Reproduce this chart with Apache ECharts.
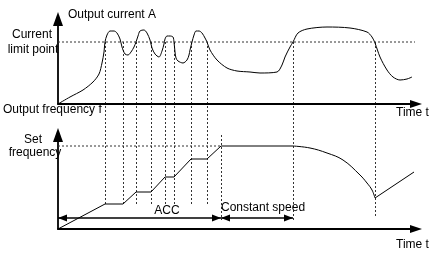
<!DOCTYPE html>
<html><head><meta charset="utf-8">
<script src="https://cdn.jsdelivr.net/npm/echarts@6/dist/echarts.min.js"></script>
<style>html,body{margin:0;padding:0;background:#fff}#c{width:438px;height:256px}</style>
</head><body><div id="c"></div>
<script>
// ---- data (time t in arbitrary units) ----
const currentT = [0,12,25,35,41,44,46,47,49,52,56,59,62,64,67,70,73,76,78,80,82,86,89,92,94,97,101,104,106,107,109,112,115,116,117,118,120,125,129,131,132,134,136,138,141,144,147,149,152,159,169,179,192,202,219,224,227,232,235,240,249,269,292,309,314,317,322,329,335,342,349,354];
const currentA = [0,7,14,22,30,41,52,62,69,73,73,71,65,57,50,49,52,57,62,68,73,74,71,64,56,50,47,53,60,65,68,68,67,62,52,46,43,41,44,49,54,62,69,73,73,71,66,62,54,44,36,33,32,31,32,39,47,57,62,71,75,77,76,72,67,61,47,34,27,24,25,27];
const currentLimit = 62;

const freqStepT = [0,47,65,78,93,107,116,133,149,163,235];
const freqStepV = [0,25,25,37,37,52,52,70,70,83,83];
const freqDecelT = [235,252,269,285,302,309,314,317];
const freqDecelV = [83,81,76,69,54,46,39,31];
const freqReaccT = [317,356];
const freqReaccV = [31,57];
const setFrequency = 83;
const setFreqEndT = 163;

// instants marked by dotted verticals
const markT      = [47,65,78,93,107,116,133,149,235,317];
const markBottom = [25,25,25,25,25,25,25,25,9,12];
const accelEndT = 163;
const constEndT = 235;
const spanLevel = 11;

const labels = {
  yTop: 'Output current A', limit1: 'Current', limit2: 'limit point',
  xTop: 'Output frequency f', time: 'Time t', set1: 'Set', set2: 'frequency',
  acc: 'ACC', constant: 'Constant speed'
};

// ---- chart ----
const zip = (a, b) => a.map((v, i) => [v, b[i]]);
const chart = echarts.init(document.getElementById('c'), null, {renderer: 'canvas'});
const FONT = '12px "Liberation Sans", Arial, Helvetica, sans-serif';
const yMax = [85, 94];
function axLine(size) {
  return {show: true, onZero: false, symbol: ['none', 'triangle'], symbolSize: size,
    lineStyle: {color: '#000', width: 1.8}};
}
function xAx(g) {
  return {type: 'value', gridIndex: g, min: 0, max: 358, axisLine: axLine([8, 12]),
    axisTick: {show: false}, axisLabel: {show: false}, splitLine: {show: false}};
}
function yAx(g) {
  return {type: 'value', gridIndex: g, min: 0, max: yMax[g], axisLine: axLine([10, 14]),
    axisTick: {show: false}, axisLabel: {show: false}, splitLine: {show: false}};
}
const curve = {color: '#000', width: 1};
const dotted = {color: '#333', width: 1, type: [2, 2]};
const base = {type: 'line', symbol: 'none', silent: true};

chart.setOption({
  animation: false,
  grid: [
    {left: 58, top: 19, width: 358, height: 85},
    {left: 58, top: 135, width: 358, height: 94}
  ],
  xAxis: [xAx(0), xAx(1)],
  yAxis: [yAx(0), yAx(1)],
  series: [
    Object.assign({}, base, {xAxisIndex: 0, yAxisIndex: 0, data: zip(currentT, currentA), smooth: 0.3, lineStyle: curve}),
    Object.assign({}, base, {xAxisIndex: 0, yAxisIndex: 0, data: [[0, currentLimit], [357, currentLimit]], lineStyle: dotted}),
    Object.assign({}, base, {xAxisIndex: 1, yAxisIndex: 1, data: zip(freqStepT, freqStepV), lineStyle: curve}),
    Object.assign({}, base, {xAxisIndex: 1, yAxisIndex: 1, data: zip(freqDecelT, freqDecelV), smooth: 0.4, lineStyle: curve}),
    Object.assign({}, base, {xAxisIndex: 1, yAxisIndex: 1, data: zip(freqReaccT, freqReaccV), lineStyle: curve}),
    Object.assign({}, base, {xAxisIndex: 1, yAxisIndex: 1, data: [[0, setFrequency], [setFreqEndT, setFrequency]], lineStyle: dotted,
      markLine: {silent: true, symbol: ['triangle', 'triangle'], symbolSize: [7, 9], symbolOffset: [[0, 4.5], [0, 4.5]],
        label: {show: false}, lineStyle: {color: '#000', width: 1.5, type: 'solid'},
        data: [
          [{coord: [0, spanLevel]}, {coord: [accelEndT, spanLevel]}],
          [{coord: [accelEndT, spanLevel]}, {coord: [constEndT, spanLevel]}]
        ]}})
  ]
});

const g = [];
const snap = v => Math.round(v - 0.5) + 0.5;
function vline(p1, p2) {
  const x = snap(p1[0]);
  g.push({type: 'line', silent: true, shape: {x1: x, y1: p1[1], x2: x, y2: p2[1]},
    style: {stroke: '#333', lineWidth: 1, lineDash: [2, 2]}});
}
markT.forEach((t, i) => {
  vline(chart.convertToPixel({xAxisIndex: 0, yAxisIndex: 0}, [t, currentLimit]),
        chart.convertToPixel({xAxisIndex: 1, yAxisIndex: 1}, [t, markBottom[i]]));
});
vline(chart.convertToPixel({xAxisIndex: 1, yAxisIndex: 1}, [accelEndT, yMax[1]]),
      chart.convertToPixel({xAxisIndex: 1, yAxisIndex: 1}, [accelEndT, 9]));

function txt(s, x, y, align) {
  g.push({type: 'text', silent: true, x: x, y: y,
    style: {text: s, font: FONT, fill: '#000', align: align || 'left', verticalAlign: 'middle'}});
}
txt(labels.yTop, 68, 15);
txt(labels.limit1, 32, 35, 'center');
txt(labels.limit2, 33, 50, 'center');
txt(labels.xTop, 3, 110);
txt(labels.time, 396, 113);
txt(labels.set1, 33, 140, 'center');
txt(labels.set2, 35, 153, 'center');
txt(labels.acc, 167, 211, 'center');
txt(labels.constant, 221, 208);
txt(labels.time, 396, 245);

chart.setOption({graphic: g});
</script></body></html>
